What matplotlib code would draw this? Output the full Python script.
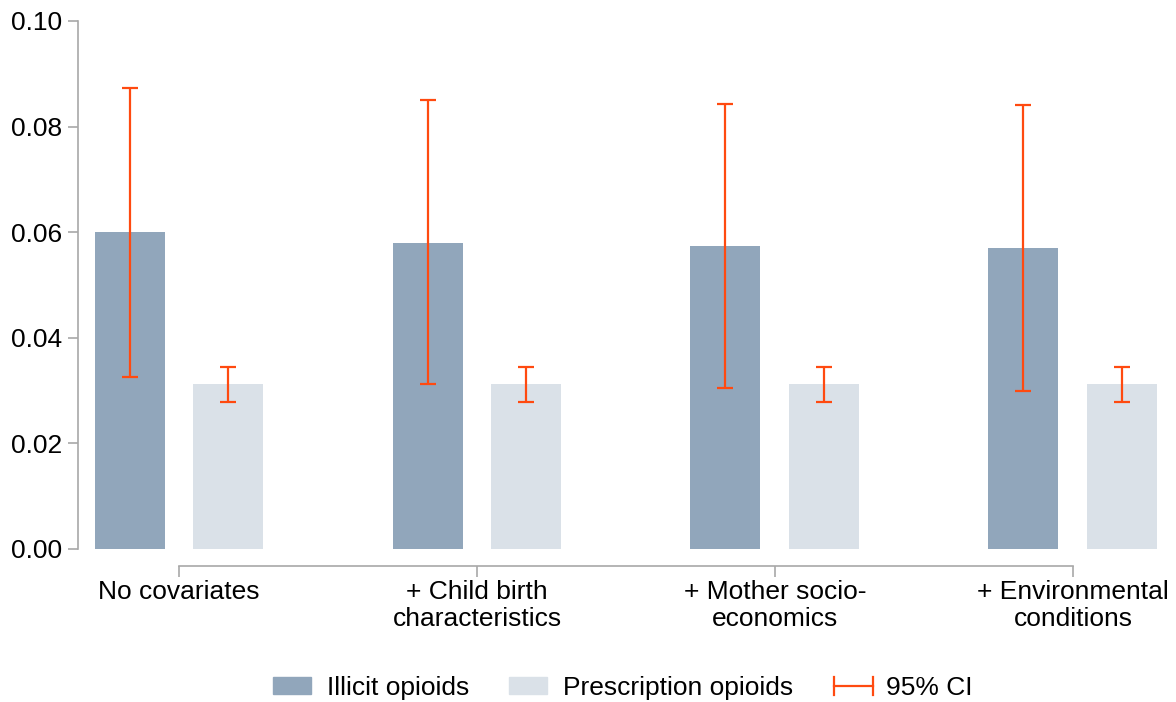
import matplotlib
matplotlib.use("Agg")
import matplotlib.pyplot as plt
import numpy as np
from matplotlib.legend_handler import HandlerBase
from matplotlib.lines import Line2D
from matplotlib.patches import Patch

categories = ["No covariates", "+ Child birth\ncharacteristics",
              "+ Mother socio-\neconomics", "+ Environmental\nconditions"]
illicit = [0.0600, 0.0580, 0.0574, 0.0570]
illicit_lo = [0.0326, 0.0312, 0.0305, 0.0299]
illicit_hi = [0.0873, 0.0850, 0.0843, 0.0841]
presc = [0.0312, 0.0312, 0.0312, 0.0312]
presc_lo = [0.0278, 0.0278, 0.0278, 0.0278]
presc_hi = [0.0345, 0.0345, 0.0345, 0.0345]
yticks = [0.00, 0.02, 0.04, 0.06, 0.08, 0.10]

C_ILL = "#91a6bb"
C_PRE = "#dae1e8"
C_CI = "#ff4a10"
C_AX = "#a8a8a8"

plt.rcParams['font.family'] = ['Liberation Sans', 'DejaVu Sans']
FS = 19

fig = plt.figure(figsize=(11.76, 7.02), dpi=100)
ax = fig.add_axes([78/1176, 1-549/702, (1176-78)/1176, (549-21)/702])

x = np.arange(len(categories))
off = 0.166
w = 0.235
ax.bar(x - off, illicit, width=w, color=C_ILL, zorder=1)
ax.bar(x + off, presc, width=w, color=C_PRE, zorder=1)

ill = np.array(illicit); pre = np.array(presc)
ax.errorbar(x - off, ill, yerr=[ill - np.array(illicit_lo), np.array(illicit_hi) - ill],
            fmt='none', ecolor=C_CI, elinewidth=1.6, capsize=6, capthick=1.6, zorder=3)
ax.errorbar(x + off, pre, yerr=[pre - np.array(presc_lo), np.array(presc_hi) - pre],
            fmt='none', ecolor=C_CI, elinewidth=1.6, capsize=6, capthick=1.6, zorder=3)

ax.set_xlim(-0.339, 3.346)
ax.set_ylim(0, 0.10)
ax.set_yticks(yticks)
ax.set_yticklabels([f"{v:.2f}" for v in yticks])
ax.set_xticks(x)
ax.set_xticklabels(categories, linespacing=1.02)

for s in ['top', 'right']:
    ax.spines[s].set_visible(False)
ax.spines['left'].set_color(C_AX)
ax.spines['left'].set_linewidth(1.2)
ax.spines['left'].set_bounds(0, 0.10)
ax.spines['bottom'].set_color(C_AX)
ax.spines['bottom'].set_linewidth(1.2)
ax.spines['bottom'].set_position(('outward', 12.2))
ax.spines['bottom'].set_bounds(0, 3)

ax.tick_params(axis='y', direction='out', length=7.2, width=1.2, color=C_AX,
               labelsize=FS, pad=4)
ax.tick_params(axis='x', direction='out', length=7.9, width=1.2, color=C_AX,
               labelsize=FS, pad=2)


class HandlerCI(HandlerBase):
    def create_artists(self, legend, orig_handle, xdescent, ydescent, width, height,
                       fontsize, trans):
        y = height / 2 - ydescent
        x0 = -xdescent + 1
        x1 = width - xdescent + 2
        h = 6.5
        arts = [Line2D([x0, x1], [y, y]),
                Line2D([x0, x0], [y - h, y + h]),
                Line2D([x1, x1], [y - h, y + h])]
        for a in arts:
            a.set_color(C_CI)
            a.set_linewidth(1.6)
            a.set_transform(trans)
        return arts


ci_handle = Line2D([], [], color=C_CI)
handles = [Patch(color=C_ILL), Patch(color=C_PRE), ci_handle]
labels = ["Illicit opioids", "Prescription opioids", "95% CI"]
fig.legend(handles, labels, loc='center', bbox_to_anchor=(623/1176, 1-688/702),
           ncol=3, frameon=False, fontsize=FS, handlelength=1.44, handleheight=0.6,
           handletextpad=0.6, columnspacing=1.5,
           handler_map={ci_handle: HandlerCI()})

fig.savefig("out.png", dpi=100)
